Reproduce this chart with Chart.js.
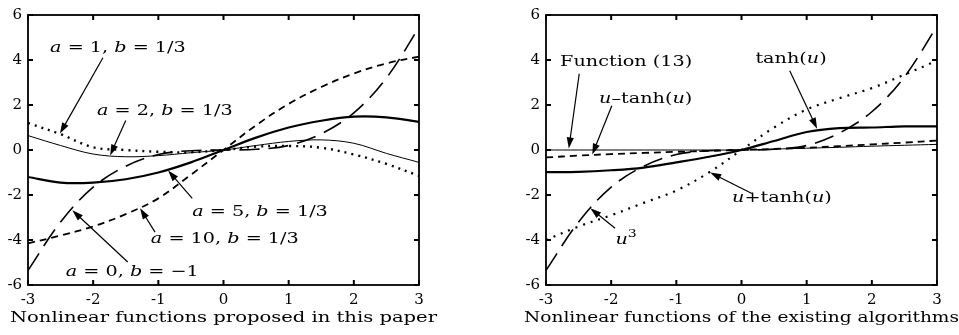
<!DOCTYPE html>
<html>
<head>
<meta charset="utf-8">
<script src="https://cdn.jsdelivr.net/npm/chart.js@4"></script>
<style>
  html, body { margin: 0; padding: 0; background: #fff; }
  #wrap { position: relative; width: 959px; height: 335px; }
  canvas { position: absolute; left: 0; top: 0; }
</style>
</head>
<body>
<div id="wrap">
  <canvas id="leftChart" width="959" height="335"></canvas>
  <canvas id="rightChart" width="959" height="335"></canvas>
</div>
<script>
// sample points on the u axis
const uValues = [-3, -2.5, -2, -1.5, -1, -0.5, 0, 0.5, 1, 1.5, 2, 2.5, 3];
const xTicks = [-3, -2, -1, 0, 1, 2, 3];
const yTicks = [-6, -4, -2, 0, 2, 4, 6];

// left panel: proposed functions
const a0bm1 = [-5.35, -3.2, -1.65, -0.72, -0.2, -0.03, 0, 0.03, 0.2, 0.72, 1.65, 3.2, 5.45];
const a10b3 = [-4.15, -3.8, -3.4, -2.85, -2.15, -1.1, 0, 1.1, 2.05, 2.8, 3.4, 3.85, 4.15];
const a5b3 = [-1.2, -1.45, -1.45, -1.3, -1.0, -0.55, 0, 0.55, 1.0, 1.3, 1.48, 1.45, 1.25];
const a2b3 = [0.64, 0.2, -0.18, -0.3, -0.25, -0.12, 0, 0.2, 0.38, 0.45, 0.3, -0.15, -0.55];
const a1b3 = [1.2, 0.7, 0.12, 0.0, -0.08, -0.1, 0, 0.15, 0.18, 0.1, -0.2, -0.62, -1.15];

// right panel: existing algorithms
const cubic = [-5.35, -3.2, -1.65, -0.72, -0.2, -0.03, 0, 0.03, 0.2, 0.75, 1.7, 3.25, 5.5];
const uPlusTanh = [-4.0, -3.4, -2.9, -2.35, -1.8, -1.0, 0, 1.0, 1.8, 2.3, 2.75, 3.35, 3.97];
const tanhU = [-0.98, -0.97, -0.9, -0.78, -0.55, -0.3, 0, 0.4, 0.8, 0.97, 1.0, 1.05, 1.05];
const uMinusTanh = [-0.33, -0.25, -0.18, -0.13, -0.08, -0.04, 0, 0.05, 0.1, 0.17, 0.25, 0.33, 0.42];
const func13 = [0, 0, 0, 0, 0, 0, 0, 0.04, 0.08, 0.12, 0.17, 0.21, 0.25];

const FONT = '"DejaVu Serif", "Liberation Serif", serif';
const NOTE_STRETCH = 1.28;

function pts(ys) {
    return uValues.map((u, i) => ({ x: u, y: ys[i] }));
}

function series(label, ys, width, dash) {
    return {
        label: label,
        data: pts(ys),
        showLine: true,
        borderColor: "#000",
        borderWidth: width,
        borderDash: dash,
        pointRadius: 0,
        tension: 0.35,
        fill: false,
    };
}

// text with italic variables, centred at (cx, cy), stretched sideways like the scanned figure
function drawRich(ctx, parts, cx, cy, size, stretch) {
    const fontFor = (p) => (p.i ? "italic " : "") + (p.sup ? Math.round(size * 0.7) : size) + "px " + FONT;
    let w = 0;
    parts.forEach((p) => { ctx.font = fontFor(p); w += ctx.measureText(p.t).width; });
    ctx.save();
    ctx.translate(cx, cy);
    ctx.scale(stretch, 1);
    let x = -w / 2;
    ctx.textAlign = "left";
    ctx.textBaseline = "middle";
    parts.forEach((p) => {
        ctx.font = fontFor(p);
        ctx.fillText(p.t, x, p.sup ? -size * 0.4 : 0);
        x += ctx.measureText(p.t).width;
    });
    ctx.restore();
}

function drawArrow(ctx, x0, y0, x1, y1) {
    const ang = Math.atan2(y1 - y0, x1 - x0);
    const len = 11, half = 3.6;
    ctx.beginPath();
    ctx.moveTo(x0, y0);
    ctx.lineTo(x1 - Math.cos(ang) * len * 0.8, y1 - Math.sin(ang) * len * 0.8);
    ctx.lineWidth = 1.2;
    ctx.stroke();
    ctx.beginPath();
    ctx.moveTo(x1, y1);
    ctx.lineTo(x1 - Math.cos(ang) * len - Math.sin(ang) * half, y1 - Math.sin(ang) * len + Math.cos(ang) * half);
    ctx.lineTo(x1 - Math.cos(ang) * len + Math.sin(ang) * half, y1 - Math.sin(ang) * len - Math.cos(ang) * half);
    ctx.closePath();
    ctx.fill();
}

// box, inward ticks, notes and caption
function panelPlugin(notes, caption, captionWidth) {
    return {
        id: "panel",
        afterDraw(chart) {
            const ctx = chart.ctx;
            const { left, right, top, bottom } = chart.chartArea;
            const xs = chart.scales.x, ys = chart.scales.y;
            ctx.save();
            ctx.strokeStyle = "#000";
            ctx.fillStyle = "#000";
            ctx.lineWidth = 1.8;
            ctx.strokeRect(left, top, right - left, bottom - top);
            ctx.lineWidth = 2;
            ctx.beginPath();
            xTicks.forEach((v) => {
                const px = xs.getPixelForValue(v);
                ctx.moveTo(px, bottom); ctx.lineTo(px, bottom - 5);
                ctx.moveTo(px, top); ctx.lineTo(px, top + 5);
            });
            yTicks.forEach((v) => {
                const py = ys.getPixelForValue(v);
                ctx.moveTo(left, py); ctx.lineTo(left + 5, py);
                ctx.moveTo(right, py); ctx.lineTo(right - 5, py);
            });
            ctx.stroke();

            notes.forEach((n) => {
                drawRich(ctx, n.parts, xs.getPixelForValue(n.at[0]), ys.getPixelForValue(n.at[1]), 15, NOTE_STRETCH);
                drawArrow(ctx,
                    xs.getPixelForValue(n.from[0]), ys.getPixelForValue(n.from[1]),
                    xs.getPixelForValue(n.to[0]), ys.getPixelForValue(n.to[1]));
            });

            ctx.font = "15px " + FONT;
            const natural = ctx.measureText(caption).width;
            drawRich(ctx, [{ t: caption }], (left + right) / 2, 318, 15, captionWidth / natural);
            ctx.restore();
        },
    };
}

function makeChart(id, datasets, padLeft, padRight, notes, caption, captionWidth) {
    return new Chart(document.getElementById(id).getContext("2d"), {
        type: "scatter",
        data: { datasets: datasets },
        options: {
            responsive: false,
            animation: false,
            layout: { padding: { left: padLeft, right: padRight, top: 14, bottom: 0 } },
            scales: {
                x: {
                    type: "linear", min: -3, max: 3,
                    afterBuildTicks: (s) => { s.ticks = xTicks.map((v) => ({ value: v })); },
                    afterFit: (s) => { s.height = 50; },
                    grid: { display: false, drawTicks: false },
                    border: { display: false },
                    ticks: { color: "#000", padding: 6, font: { family: FONT, size: 15 } },
                },
                y: {
                    type: "linear", min: -6, max: 6,
                    afterBuildTicks: (s) => { s.ticks = yTicks.map((v) => ({ value: v })); },
                    afterFit: (s) => { s.width = 28; },
                    grid: { display: false, drawTicks: false },
                    border: { display: false },
                    ticks: { color: "#000", padding: 6, font: { family: FONT, size: 15 } },
                },
            },
            plugins: { legend: { display: false }, tooltip: { enabled: false } },
        },
        plugins: [panelPlugin(notes, caption, captionWidth)],
    });
}

const I = (t) => ({ t: t, i: 1 });
const R = (t) => ({ t: t });

const leftNotes = [
    { parts: [I("a"), R(" = 1, "), I("b"), R(" = 1/3")], at: [-1.62, 4.54], from: [-1.85, 4.1], to: [-2.51, 0.73] },
    { parts: [I("a"), R(" = 2, "), I("b"), R(" = 1/3")], at: [-0.9, 1.75], from: [-1.5, 1.31], to: [-1.74, -0.24] },
    { parts: [I("a"), R(" = 5, "), I("b"), R(" = 1/3")], at: [0.56, -2.77], from: [-0.48, -2.15], to: [-0.85, -0.91] },
    { parts: [I("a"), R(" = 10, "), I("b"), R(" = 1/3")], at: [0.02, -3.96], from: [-1.05, -3.65], to: [-1.28, -2.59] },
    { parts: [I("a"), R(" = 0, "), I("b"), R(" = −1")], at: [-1.4, -5.43], from: [-1.47, -4.98], to: [-2.32, -2.68] },
];

const rightNotes = [
    { parts: [R("Function (13)")], at: [-1.77, 3.92], from: [-2.49, 3.39], to: [-2.65, 0.07] },
    { parts: [I("u"), R("–tanh("), I("u"), R(")")], at: [-1.47, 2.28], from: [-1.99, 1.97], to: [-2.29, -0.2] },
    { parts: [R("tanh("), I("u"), R(")")], at: [0.76, 4.05], from: [0.74, 3.52], to: [1.16, 0.95] },
    { parts: [I("u"), R("+tanh("), I("u"), R(")")], at: [0.62, -2.15], from: [0.16, -1.93], to: [-0.48, -1.0] },
    { parts: [I("u"), { t: "3", sup: 1 }], at: [-1.77, -4.0], from: [-1.94, -3.48], to: [-2.32, -2.59] },
];

makeChart("leftChart", [
    series("a=0, b=-1", a0bm1, 1.6, [20, 9]),
    series("a=10, b=1/3", a10b3, 1.8, [7, 5]),
    series("a=5, b=1/3", a5b3, 2.2, []),
    series("a=2, b=1/3", a2b3, 1, []),
    series("a=1, b=1/3", a1b3, 2.4, [2, 5]),
], 0, 540, leftNotes, "Nonlinear functions proposed in this paper", 427);

makeChart("rightChart", [
    series("u^3", cubic, 1.6, [20, 9]),
    series("u+tanh(u)", uPlusTanh, 2.2, [2, 6]),
    series("tanh(u)", tanhU, 2.2, []),
    series("u-tanh(u)", uMinusTanh, 1.8, [7, 5]),
    series("Function (13)", func13, 1, []),
], 518, 22, rightNotes, "Nonlinear functions of the existing algorithms", 435);
</script>
</body>
</html>
